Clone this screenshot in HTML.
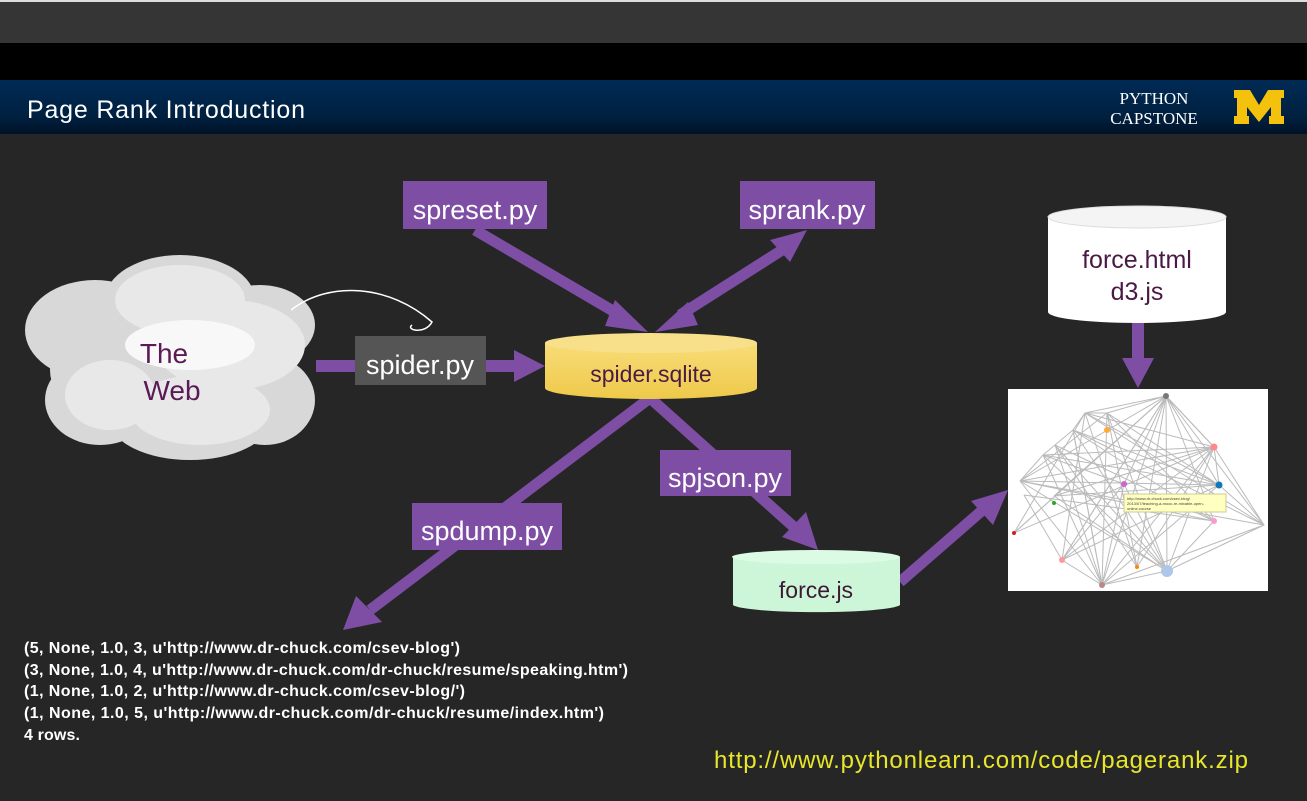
<!DOCTYPE html>
<html><head><meta charset="utf-8"><style>
html,body{margin:0;padding:0;background:#262626;}
body{width:1307px;height:801px;overflow:hidden;position:relative;font-family:"Liberation Sans",sans-serif;}
</style></head><body>
<svg width="1307" height="801" viewBox="0 0 1307 801" xmlns="http://www.w3.org/2000/svg" style="position:absolute;left:0;top:0">
<defs>
<linearGradient id="hdr" x1="0" y1="0" x2="0" y2="1"><stop offset="0" stop-color="#002a55"/><stop offset="0.7" stop-color="#00203f"/><stop offset="1" stop-color="#001228"/></linearGradient>
<linearGradient id="yl" x1="0" y1="0" x2="0" y2="1"><stop offset="0" stop-color="#f8dc78"/><stop offset="1" stop-color="#eec94a"/></linearGradient>
</defs>
<rect x="0" y="0" width="1307" height="43" fill="#353535"/>
<rect x="0" y="0" width="1307" height="2" fill="#ddd"/>
<rect x="0" y="43" width="1307" height="37" fill="#000"/>
<rect x="0" y="80" width="1307" height="54" fill="url(#hdr)"/>
<text x="27" y="118" fill="#fff" font-size="25" textLength="278">Page Rank Introduction</text>
<text x="1154" y="104" fill="#fff" font-size="17" font-family="Liberation Serif" text-anchor="middle">PYTHON</text>
<text x="1154" y="124" fill="#fff" font-size="17" font-family="Liberation Serif" text-anchor="middle">CAPSTONE</text>
<path d="M1234 90h16l9 15l9-15h16v8h-3v18h3v8h-15v-8h2v-9l-12 15l-12-15v9h2v8h-15v-8h3v-18h-3z" fill="#f4c20d"/>

<!-- cloud -->
<g fill="#d8d8d8">
<ellipse cx="95" cy="330" rx="70" ry="50"/>
<ellipse cx="100" cy="400" rx="55" ry="45"/>
<ellipse cx="180" cy="300" rx="75" ry="45"/>
<ellipse cx="260" cy="325" rx="55" ry="40"/>
<ellipse cx="265" cy="400" rx="50" ry="45"/>
<ellipse cx="190" cy="420" rx="80" ry="40"/>
<ellipse cx="170" cy="370" rx="120" ry="70"/>
</g>
<g fill="#e8e8e8">
<ellipse cx="180" cy="300" rx="65" ry="35"/>
<ellipse cx="230" cy="345" rx="75" ry="45"/>
<ellipse cx="110" cy="395" rx="45" ry="35"/>
<ellipse cx="200" cy="410" rx="70" ry="35"/>
</g>
<ellipse cx="190" cy="345" rx="65" ry="25" fill="#f8f8f8"/>
<text x="164" y="363" fill="#5a1a55" font-size="28" text-anchor="middle">The</text>
<text x="172" y="400" fill="#5a1a55" font-size="28" text-anchor="middle">Web</text>
<path d="M291 310 C330 280 390 285 432 322 C425 335 405 330 412 325" stroke="#fff" stroke-width="1.5" fill="none"/>

<!-- arrows -->
<g fill="#7d4ea3" stroke="none">
<rect x="316" y="360" width="40" height="12"/>
<rect x="486" y="360" width="30" height="12"/>
<polygon points="514,350 545,366 514,382"/>
<line x1="475" y1="230" x2="625" y2="318" stroke="#7d4ea3" stroke-width="11"/>
<polygon points="615,300 648,332 605,326"/>
<line x1="790" y1="245" x2="680" y2="315" stroke="#7d4ea3" stroke-width="11"/>
<polygon points="807,230 770,240 790,262"/>
<polygon points="655,332 688,302 698,325"/>
<line x1="650" y1="398" x2="370" y2="610" stroke="#7d4ea3" stroke-width="11"/>
<polygon points="343,630 356,596 382,622"/>
<line x1="650" y1="398" x2="795" y2="528" stroke="#7d4ea3" stroke-width="11"/>
<polygon points="818,550 782,537 806,512"/>
<line x1="900" y1="582" x2="985" y2="508" stroke="#7d4ea3" stroke-width="11"/>
<polygon points="1008,490 993,525 971,501"/>
<rect x="1132" y="322" width="12" height="40"/>
<polygon points="1122,358 1154,358 1138,388"/>
</g>
<rect x="355" y="336" width="131" height="49" fill="#555"/>
<text x="420" y="374" fill="#fff" font-size="27" text-anchor="middle">spider.py</text>

<rect x="403" y="181" width="144" height="48" fill="#7d4ea3"/>
<text x="475" y="219" fill="#fff" font-size="27" text-anchor="middle">spreset.py</text>
<rect x="740" y="181" width="135" height="48" fill="#7d4ea3"/>
<text x="807" y="219" fill="#fff" font-size="27" text-anchor="middle">sprank.py</text>
<rect x="660" y="450" width="131" height="46" fill="#7d4ea3"/>
<text x="725" y="487" fill="#fff" font-size="27" text-anchor="middle">spjson.py</text>
<rect x="412" y="503" width="150" height="47" fill="#7d4ea3"/>
<text x="487" y="540" fill="#fff" font-size="27" text-anchor="middle">spdump.py</text>

<!-- sqlite -->
<path d="M545 343 v45 a106 11 0 0 0 212 0 v-45z" fill="url(#yl)"/>
<ellipse cx="651" cy="343" rx="106" ry="10" fill="#f8e08a"/>
<text x="651" y="382" fill="#4a1a45" font-size="23" text-anchor="middle">spider.sqlite</text>
<!-- force.js -->
<path d="M733 557 v48 a84 8 0 0 0 167 0 v-48z" fill="#cdf5d8"/>
<ellipse cx="816" cy="557" rx="84" ry="7" fill="#dcfbe4"/>
<text x="816" y="598" fill="#3a1a35" font-size="23" text-anchor="middle">force.js</text>
<!-- force.html -->
<path d="M1048 217 v95 a89 11 0 0 0 178 0 v-95z" fill="#fff"/>
<ellipse cx="1137" cy="217" rx="89" ry="11" fill="#f4f4f4" stroke="#ddd"/>
<text x="1137" y="268" fill="#4a1a45" font-size="25" text-anchor="middle">force.html</text>
<text x="1137" y="300" fill="#4a1a45" font-size="25" text-anchor="middle">d3.js</text>

<!-- graph -->
<rect x="1008" y="389" width="260" height="202" fill="#fff"/>
<g stroke="#bbb" stroke-width="1" fill="none">
<path d="M1166 396L1020 481M1166 396L1062 560M1166 396L1102 585M1166 396L1167 571M1166 396L1214 447M1166 396L1264 525M1166 396L1214 521M1166 396L1137 567M1166 396L1085 413M1166 396L1107 413M1166 396L1054 496M1166 396L1014 533M1166 396L1219 485M1166 396L1124 484"/>
<path d="M1107 413L1214 521M1107 413L1102 585M1107 413L1167 571M1107 413L1020 481M1107 413L1219 485M1085 413L1214 447M1085 413L1137 567M1085 413L1062 560M1085 413L1264 525M1073 430L1219 485M1073 430L1167 571M1073 430L1214 521M1073 430L1102 585"/>
<path d="M1020 481L1214 447M1020 481L1167 571M1020 481L1219 485M1020 481L1214 521M1020 481L1102 585M1014 533L1085 413M1014 533L1166 396M1054 496L1214 447M1054 496L1167 571M1062 560L1214 447M1062 560L1219 485M1062 560L1124 484M1102 585L1214 447M1102 585L1219 485M1102 585L1264 525M1167 571L1214 447M1167 571L1264 525M1167 571L1214 521M1137 567L1214 447M1214 447L1219 485M1214 447L1264 525M1043 455L1219 485M1043 455L1167 571M1043 455L1214 447M1055 445L1214 521M1055 445L1102 585M1055 445L1137 567M1124 484L1167 571M1124 484L1102 585M1124 484L1062 560M1107 413L1085 413L1073 430L1055 445L1043 455L1020 481M1024 495L1062 560L1102 585L1167 571L1264 525L1219 485L1214 447L1166 396"/>
<path d="M1085 413L1219 485M1073 430L1264 525M1055 445L1167 571M1043 455L1124 484M1020 481L1264 525M1054 496L1219 485M1062 560L1166 396M1137 567L1107 413M1102 585L1073 430M1014 533L1214 447M1024 495L1214 521M1043 455L1102 585"/>
</g>
<g>
<circle cx="1166" cy="396" r="3" fill="#777"/><circle cx="1107" cy="430" r="3" fill="#fa3"/>
<circle cx="1214" cy="447" r="3.5" fill="#f88"/><circle cx="1219" cy="485" r="3.5" fill="#17b"/>
<circle cx="1124" cy="484" r="3" fill="#c6c"/><circle cx="1214" cy="521" r="3" fill="#f9c"/>
<circle cx="1062" cy="560" r="3" fill="#f99"/><circle cx="1102" cy="585" r="3" fill="#b88"/>
<circle cx="1167" cy="571" r="6" fill="#aec7e8"/><circle cx="1137" cy="567" r="2" fill="#f80"/>
<circle cx="1054" cy="503" r="2" fill="#2a2"/><circle cx="1014" cy="533" r="2" fill="#c22"/>
</g>
<rect x="1124" y="494" width="102" height="18" fill="#ffffc0" stroke="#cc9"/>
<text x="1127" y="500" font-size="4" fill="#444">http://www.dr-chuck.com/csev-blog/</text>
<text x="1127" y="505" font-size="4" fill="#444">2013/07/teaching-a-mooc-re-mixable-open-</text>
<text x="1127" y="510" font-size="4" fill="#444">online-course</text>

<g fill="#fff" font-size="16" font-weight="bold">
<text x="24" y="653" textLength="436">(5, None, 1.0, 3, u'http://www.dr-chuck.com/csev-blog')</text>
<text x="24" y="675" textLength="604">(3, None, 1.0, 4, u'http://www.dr-chuck.com/dr-chuck/resume/speaking.htm')</text>
<text x="24" y="696" textLength="441">(1, None, 1.0, 2, u'http://www.dr-chuck.com/csev-blog/')</text>
<text x="24" y="718" textLength="580">(1, None, 1.0, 5, u'http://www.dr-chuck.com/dr-chuck/resume/index.htm')</text>
<text x="24" y="740" textLength="56">4 rows.</text>
</g>
<text x="714" y="768" fill="#e8e62a" font-size="24" textLength="534">http://www.pythonlearn.com/code/pagerank.zip</text>
</svg>
</body></html>
